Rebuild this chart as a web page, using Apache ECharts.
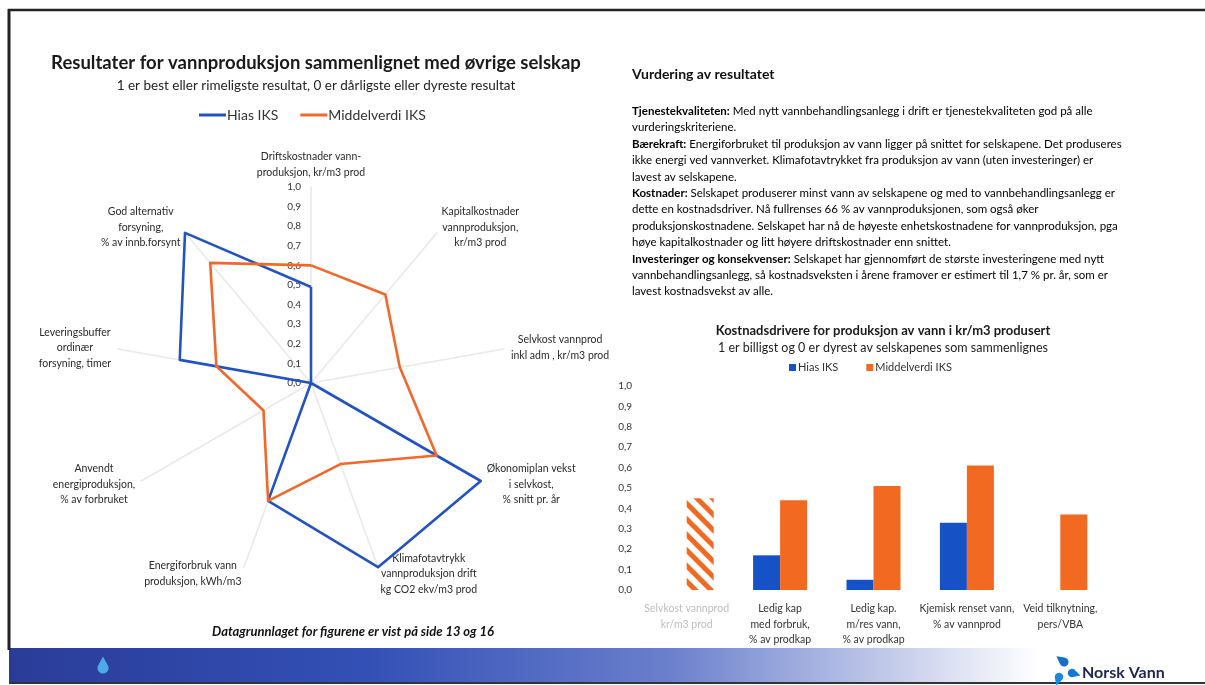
<!DOCTYPE html>
<html>
<head>
<meta charset="utf-8">
<script src="https://cdn.jsdelivr.net/npm/echarts@6/dist/echarts.min.js"></script>
<style>
  html, body { margin: 0; padding: 0; background: #ffffff; }
  #page { position: relative; width: 1205px; height: 685px; overflow: hidden; }
  .layer { position: absolute; left: 0; top: 0; width: 1205px; height: 685px; }
</style>
</head>
<body>
<div id="page">
  <div id="radar" class="layer"></div>
  <div id="bars" class="layer"></div>
</div>
<script>
const FONT = 'Lato, "Open Sans", "Noto Sans", sans-serif';
const BLUE = '#2353c2';
const ORANGE = '#f2682a';

// ---- Radar: indicators listed clockwise from the top ----
const radarIndicators = [
  'Driftskostnader vann-\nproduksjon, kr/m3 prod',
  'Kapitalkostnader\nvannproduksjon,\nkr/m3 prod',
  'Selvkost vannprod\ninkl adm , kr/m3 prod',
  'Økonomiplan vekst\ni selvkost,\n% snitt pr. år',
  'Klimafotavtrykk\nvannproduksjon drift\nkg CO2 ekv/m3 prod',
  'Energiforbruk vann\nproduksjon, kWh/m3',
  'Anvendt\nenergiproduksjon,\n% av forbruket',
  'Leveringsbuffer\nordinær\nforsyning, timer',
  'God alternativ\nforsyning,\n% av innb.forsynt'
];
const radarHias   = [0.49, 0.00, 0.00, 1.00, 1.00, 0.64, 0.00, 0.68, 1.00];
const radarMiddel = [0.60, 0.59, 0.46, 0.74, 0.44, 0.64, 0.28, 0.49, 0.80];
const seriesNames = ['Hias IKS', 'Middelverdi IKS'];

// ---- Bars: cost drivers ----
const barCategories = [
  'Selvkost vannprod\nkr/m3 prod',
  'Ledig kap\nmed forbruk,\n% av prodkap',
  'Ledig kap.\nm/res vann,\n% av prodkap',
  'Kjemisk renset vann,\n% av vannprod',
  'Veid tilknytning,\npers/VBA'
];
const barHias   = [0.00, 0.17, 0.05, 0.33, 0.00];
const barMiddel = [0.45, 0.44, 0.51, 0.61, 0.37];
const hatchedCategory = 0;   // average only, shown hatched
const mutedCategory = 0;     // greyed out axis label

// ---- Assessment text (bold lead, regular rest) ----
const assessmentLines = [
  ['Tjenestekvaliteten:', ' Med nytt vannbehandlingsanlegg i drift er tjenestekvaliteten god på alle'],
  ['', 'vurderingskriteriene.'],
  ['Bærekraft:', ' Energiforbruket til produksjon av vann ligger på snittet for selskapene. Det produseres'],
  ['', 'ikke energi ved vannverket. Klimafotavtrykket fra produksjon av vann (uten investeringer) er'],
  ['', 'lavest av selskapene.'],
  ['Kostnader:', ' Selskapet produserer minst vann av selskapene og med to vannbehandlingsanlegg er'],
  ['', 'dette en kostnadsdriver. Nå fullrenses 66 % av vannproduksjonen, som også øker'],
  ['', 'produksjonskostnadene. Selskapet har nå de høyeste enhetskostnadene for vannproduksjon, pga'],
  ['', 'høye kapitalkostnader og litt høyere driftskostnader enn snittet.'],
  ['Investeringer og konsekvenser:', ' Selskapet har gjennomført de største investeringene med nytt'],
  ['', 'vannbehandlingsanlegg, så kostnadsveksten i årene framover er estimert til 1,7 % pr. år, som er'],
  ['', 'lavest kostnadsvekst av alle.']
];

const comma = v => v.toFixed(1).replace('.', ',');

// ECharts lays radar indicators out counter-clockwise; reorder so they read clockwise
const ccw = arr => [arr[0]].concat(arr.slice(1).reverse());

const centeredLines = s => s.split('\n').map(l => '{c|' + l + '}').join('\n');

const indicators = ccw(radarIndicators).map((name, i) => {
  const ind = { name: name, min: 0, max: 1 };
  if (i === 0) {
    ind.axisLabel = {
      show: true, color: '#333', fontSize: 10, fontFamily: FONT,
      margin: 10, formatter: v => comma(v)
    };
  }
  return ind;
});

const assessmentText = assessmentLines.map(([b, r]) =>
  (b ? '{b|' + b + '}' : '') + '{r|' + r + '}').join('\n');

// drop outline: round body of radius r at (cx, cy), tip pointing along `dir` (radians, screen coords)
function dropPoints(cx, cy, r, dir) {
  const pts = [];
  const tipLen = r * 2.1;
  pts.push([cx + Math.cos(dir) * tipLen, cy + Math.sin(dir) * tipLen]);
  for (let k = 0; k <= 24; k++) {
    const a = dir + Math.PI / 3 + (k / 24) * (Math.PI * 4 / 3);
    pts.push([cx + Math.cos(a) * r, cy + Math.sin(a) * r]);
  }
  return pts;
}

const radarChart = echarts.init(document.getElementById('radar'), null, { renderer: 'canvas' });
radarChart.setOption({
  animation: false,
  backgroundColor: '#ffffff',
  textStyle: { fontFamily: FONT },
  title: [
    {
      text: 'Resultater for vannproduksjon sammenlignet med øvrige selskap',
      left: 311, top: 49, textAlign: 'center',
      textStyle: { fontSize: 18.5, fontWeight: 'bold', color: '#1a1a1a', fontFamily: FONT }
    },
    {
      text: '1 er best eller rimeligste resultat, 0 er dårligste eller dyreste resultat',
      left: 311, top: 74, textAlign: 'center',
      textStyle: { fontSize: 13.5, fontWeight: 'normal', color: '#222', fontFamily: FONT }
    }
  ],
  legend: {
    data: seriesNames,
    left: 194, top: 103,
    icon: 'rect', itemWidth: 27, itemHeight: 3, itemGap: 22,
    textStyle: { fontSize: 14, color: '#333', fontFamily: FONT, padding: [0, 0, 0, -4] }
  },
  radar: {
    center: [311, 383],
    radius: 196,
    startAngle: 90,
    splitNumber: 10,
    shape: 'polygon',
    axisName: {
      color: '#2a2a2a', fontSize: 10.5, fontFamily: FONT, lineHeight: 15.5,
      formatter: name => centeredLines(name),
      rich: { c: { align: 'center', fontSize: 10.5, fontFamily: FONT, color: '#2a2a2a', lineHeight: 15.5 } }
    },
    nameGap: 7,
    axisLine: { show: true, lineStyle: { color: '#e9e9e9', width: 1.6 } },
    axisTick: { show: false },
    axisLabel: { show: false },
    splitLine: { show: false },
    splitArea: { show: false },
    indicator: indicators
  },
  series: [{
    type: 'radar',
    symbol: 'none',
    data: [
      { name: seriesNames[0], value: ccw(radarHias),
        lineStyle: { color: BLUE, width: 2.6 }, itemStyle: { color: BLUE } },
      { name: seriesNames[1], value: ccw(radarMiddel),
        lineStyle: { color: ORANGE, width: 2.6 }, itemStyle: { color: ORANGE } }
    ]
  }],
  graphic: [
    // slide frame
    { type: 'line', shape: { x1: 8, y1: 10, x2: 1205, y2: 10 }, style: { stroke: '#222', lineWidth: 2.5 } },
    { type: 'line', shape: { x1: 9, y1: 9, x2: 9, y2: 650 }, style: { stroke: '#222', lineWidth: 3 } },
    // footer band
    {
      type: 'rect', shape: { x: 9, y: 648, width: 1196, height: 35 }, z: -1,
      style: {
        fill: new echarts.graphic.LinearGradient(0, 0, 1, 0, [
          { offset: 0, color: '#2a3c98' },
          { offset: 0.3, color: '#3350b6' },
          { offset: 0.55, color: '#6a7fcc' },
          { offset: 0.75, color: '#c9d0ec' },
          { offset: 0.86, color: '#ffffff' },
          { offset: 1, color: '#ffffff' }
        ])
      }
    },
    { type: 'line', shape: { x1: 9, y1: 683, x2: 1205, y2: 683 }, style: { stroke: '#333', lineWidth: 2 } },
    // left footer drop
    { type: 'polygon', shape: { points: dropPoints(103, 668, 5.5, -Math.PI / 2) }, style: { fill: '#4fa8ea' } },
    // Norsk Vann logo
    { type: 'polygon', shape: { points: dropPoints(1064, 662, 4.5, -2.5) }, style: { fill: '#1670c9' } },
    { type: 'polygon', shape: { points: dropPoints(1059, 677, 4.2, 1.9) }, style: { fill: '#1a86dc' } },
    { type: 'polygon', shape: { points: dropPoints(1072, 673, 4.2, 0.3) }, style: { fill: '#1478d2' } },
    {
      type: 'text', x: 1082, y: 673,
      style: { text: 'Norsk Vann', fill: '#1d2452', font: 'bold 16px ' + FONT, textVerticalAlign: 'middle' }
    },
    // footnote
    {
      type: 'text', x: 353, y: 632,
      style: {
        text: 'Datagrunnlaget for figurene er vist på side 13 og 16', fill: '#111',
        font: 'italic bold 13px ' + FONT, textAlign: 'center', textVerticalAlign: 'middle'
      }
    },
    // assessment heading and text
    {
      type: 'text', x: 632, y: 74,
      style: { text: 'Vurdering av resultatet', fill: '#111', font: 'bold 14px ' + FONT, textVerticalAlign: 'middle' }
    },
    {
      type: 'text', x: 632, y: 103,
      style: {
        text: assessmentText,
        textVerticalAlign: 'top',
        rich: {
          b: { fontWeight: 'bold', fontSize: 11.5, fontFamily: FONT, color: '#111', lineHeight: 16.4 },
          r: { fontWeight: 'normal', fontSize: 11.5, fontFamily: FONT, color: '#111', lineHeight: 16.4 }
        }
      }
    }
  ]
});

const barChart = echarts.init(document.getElementById('bars'), null, { renderer: 'canvas' });
barChart.setOption({
  animation: false,
  backgroundColor: 'transparent',
  textStyle: { fontFamily: FONT },
  title: [
    {
      text: 'Kostnadsdrivere for produksjon av vann i kr/m3 produsert',
      left: 878, top: 319, textAlign: 'center',
      textStyle: { fontSize: 13, fontWeight: 'bold', color: '#1a1a1a', fontFamily: FONT }
    },
    {
      text: '1 er billigst og 0 er dyrest av selskapenes som sammenlignes',
      left: 878, top: 336, textAlign: 'center',
      textStyle: { fontSize: 12.5, fontWeight: 'normal', color: '#222', fontFamily: FONT }
    }
  ],
  legend: {
    data: seriesNames,
    left: 784, top: 357,
    icon: 'rect', itemWidth: 7, itemHeight: 7, itemGap: 28,
    textStyle: { fontSize: 11, color: '#333', fontFamily: FONT, padding: [0, 0, 0, -3] }
  },
  grid: { left: 640, right: 98, top: 386, bottom: 95 },
  xAxis: {
    type: 'category',
    data: barCategories.map((c, i) => i === mutedCategory
      ? { value: c, textStyle: { color: '#bdbdbd' } }
      : c),
    axisLine: { show: false },
    axisTick: { show: false },
    axisLabel: { color: '#333', fontSize: 10.5, fontFamily: FONT, lineHeight: 15.5, margin: 11, interval: 0 }
  },
  yAxis: {
    type: 'value',
    min: 0, max: 1, interval: 0.1,
    axisLine: { show: false },
    axisTick: { show: false },
    splitLine: { show: false },
    axisLabel: { color: '#333', fontSize: 10, fontFamily: FONT, margin: 8, formatter: v => comma(v) }
  },
  series: [
    {
      name: seriesNames[0], type: 'bar', barWidth: 27, barGap: '0%',
      itemStyle: { color: '#1652c6' },
      data: barHias
    },
    {
      name: seriesNames[1], type: 'bar', barWidth: 27,
      itemStyle: { color: '#f26a22' },
      data: barMiddel.map((v, i) => i === hatchedCategory
        ? {
            value: v,
            itemStyle: {
              color: '#ffffff',
              decal: {
                symbol: 'rect', symbolSize: 1,
                dashArrayX: [1, 0], dashArrayY: [5, 6],
                rotation: Math.PI / 4, color: '#f26a22'
              }
            }
          }
        : v)
    }
  ]
});
</script>
</body>
</html>
